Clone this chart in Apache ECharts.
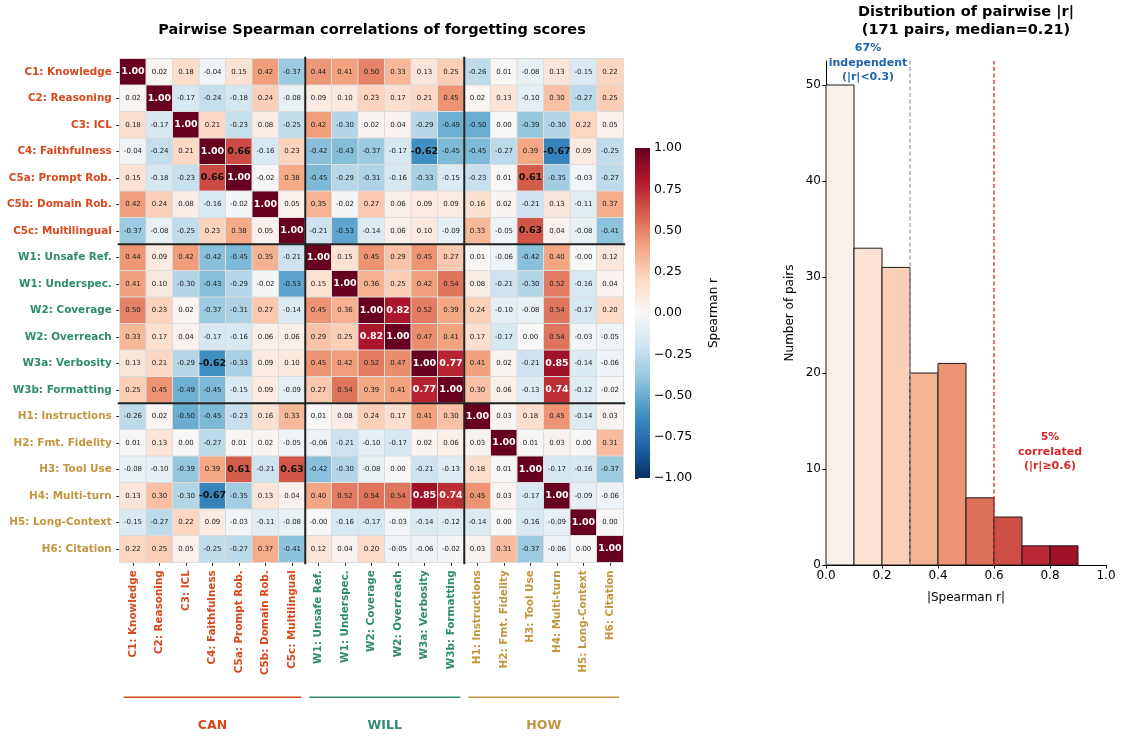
<!DOCTYPE html>
<html>
<head>
<meta charset="utf-8">
<script src="https://cdn.jsdelivr.net/npm/echarts@6/dist/echarts.min.js"></script>
<style>
html,body{margin:0;padding:0;background:#fff;}
#chart{width:1122px;height:737px;}
</style>
</head>
<body>
<div id="chart"></div>
<script>
// ---------- DATA ----------
const labels = ['C1: Knowledge','C2: Reasoning','C3: ICL','C4: Faithfulness','C5a: Prompt Rob.','C5b: Domain Rob.','C5c: Multilingual',
  'W1: Unsafe Ref.','W1: Underspec.','W2: Coverage','W2: Overreach','W3a: Verbosity','W3b: Formatting',
  'H1: Instructions','H2: Fmt. Fidelity','H3: Tool Use','H4: Multi-turn','H5: Long-Context','H6: Citation'];
const groupOf = [0,0,0,0,0,0,0,1,1,1,1,1,1,2,2,2,2,2,2];
const groupNames = ['CAN','WILL','HOW'];
const groupStart = [0,7,13];
const groupEnd = [6,12,18];
const groupColors = ['#D9481C','#2E8B6F','#C4953F'];

const corrRows = [
 [ 1.00, 0.02, 0.18,-0.04, 0.15, 0.42,-0.37, 0.44, 0.41, 0.50, 0.33, 0.13, 0.25,-0.26, 0.01,-0.08, 0.13,-0.15, 0.22],
 [ 0.02, 1.00,-0.17,-0.24,-0.18, 0.24,-0.08, 0.09, 0.10, 0.23, 0.17, 0.21, 0.45, 0.02, 0.13,-0.10, 0.30,-0.27, 0.25],
 [ 0.18,-0.17, 1.00, 0.21,-0.23, 0.08,-0.25, 0.42,-0.30, 0.02, 0.04,-0.29,-0.49,-0.50, 0.00,-0.39,-0.30, 0.22, 0.05],
 [-0.04,-0.24, 0.21, 1.00, 0.66,-0.16, 0.23,-0.42,-0.43,-0.37,-0.17,-0.62,-0.45,-0.45,-0.27, 0.39,-0.67, 0.09,-0.25],
 [ 0.15,-0.18,-0.23, 0.66, 1.00,-0.02, 0.38,-0.45,-0.29,-0.31,-0.16,-0.33,-0.15,-0.23, 0.01, 0.61,-0.35,-0.03,-0.27],
 [ 0.42, 0.24, 0.08,-0.16,-0.02, 1.00, 0.05, 0.35,-0.02, 0.27, 0.06, 0.09, 0.09, 0.16, 0.02,-0.21, 0.13,-0.11, 0.37],
 [-0.37,-0.08,-0.25, 0.23, 0.38, 0.05, 1.00,-0.21,-0.53,-0.14, 0.06, 0.10,-0.09, 0.33,-0.05, 0.63, 0.04,-0.08,-0.41],
 [ 0.44, 0.09, 0.42,-0.42,-0.45, 0.35,-0.21, 1.00, 0.15, 0.45, 0.29, 0.45, 0.27, 0.01,-0.06,-0.42, 0.40,-0.004, 0.12],
 [ 0.41, 0.10,-0.30,-0.43,-0.29,-0.02,-0.53, 0.15, 1.00, 0.36, 0.25, 0.42, 0.54, 0.08,-0.21,-0.30, 0.52,-0.16, 0.04],
 [ 0.50, 0.23, 0.02,-0.37,-0.31, 0.27,-0.14, 0.45, 0.36, 1.00, 0.82, 0.52, 0.39, 0.24,-0.10,-0.08, 0.54,-0.17, 0.20],
 [ 0.33, 0.17, 0.04,-0.17,-0.16, 0.06, 0.06, 0.29, 0.25, 0.82, 1.00, 0.47, 0.41, 0.17,-0.17, 0.00, 0.54,-0.03,-0.05],
 [ 0.13, 0.21,-0.29,-0.62,-0.33, 0.09, 0.10, 0.45, 0.42, 0.52, 0.47, 1.00, 0.77, 0.41, 0.02,-0.21, 0.85,-0.14,-0.06],
 [ 0.25, 0.45,-0.49,-0.45,-0.15, 0.09,-0.09, 0.27, 0.54, 0.39, 0.41, 0.77, 1.00, 0.30, 0.06,-0.13, 0.74,-0.12,-0.02],
 [-0.26, 0.02,-0.50,-0.45,-0.23, 0.16, 0.33, 0.01, 0.08, 0.24, 0.17, 0.41, 0.30, 1.00, 0.03, 0.18, 0.45,-0.14, 0.03],
 [ 0.01, 0.13, 0.00,-0.27, 0.01, 0.02,-0.05,-0.06,-0.21,-0.10,-0.17, 0.02, 0.06, 0.03, 1.00, 0.01, 0.03, 0.00, 0.31],
 [-0.08,-0.10,-0.39, 0.39, 0.61,-0.21, 0.63,-0.42,-0.30,-0.08, 0.00,-0.21,-0.13, 0.18, 0.01, 1.00,-0.17,-0.16,-0.37],
 [ 0.13, 0.30,-0.30,-0.67,-0.35, 0.13, 0.04, 0.40, 0.52, 0.54, 0.54, 0.85, 0.74, 0.45, 0.03,-0.17, 1.00,-0.09,-0.06],
 [-0.15,-0.27, 0.22, 0.09,-0.03,-0.11,-0.08,-0.004,-0.16,-0.17,-0.03,-0.14,-0.12,-0.14, 0.00,-0.16,-0.09, 1.00, 0.00],
 [ 0.22, 0.25, 0.05,-0.25,-0.27, 0.37,-0.41, 0.12, 0.04, 0.20,-0.05,-0.06,-0.02, 0.03, 0.31,-0.37,-0.06, 0.00, 1.00]
];

const binEdges = [0.0,0.1,0.2,0.3,0.4,0.5,0.6,0.7,0.8,0.9];
const binCounts = [50,33,31,20,21,7,5,2,2];
const thresholdLines = [0.3, 0.6];
const annoTexts = ['67%\nindependent\n(|r|<0.3)', '5%\ncorrelated\n(|r|≥0.6)'];
const annoPos = [[0.15, 52.3],[0.8, 11.8]];
const histYTicks = [0,10,20,30,40,50];

// ---------- COLORMAP (RdBu_r) ----------
const rdbu = ['#053061','#2166ac','#4393c3','#92c5de','#d1e5f0','#f7f7f7','#fddbc7','#f4a582','#d6604d','#b2182b','#67001f'];
function hex2rgb(h){return [parseInt(h.slice(1,3),16),parseInt(h.slice(3,5),16),parseInt(h.slice(5,7),16)];}
function cmap(t){
  t = Math.max(0, Math.min(1, t));
  const p = t*(rdbu.length-1); const i = Math.min(Math.floor(p), rdbu.length-2); const f = p-i;
  const a = hex2rgb(rdbu[i]), b = hex2rgb(rdbu[i+1]);
  return 'rgb('+a.map((v,k)=>Math.round(v+(b[k]-v)*f)).join(',')+')';
}

const FONT = 'DejaVu Sans';
const heatData = [];
corrRows.forEach((row, r) => row.forEach((v, c) => heatData.push([c, r, v])));

const richLabels = {};
groupColors.forEach((col, i) => { richLabels['g'+i] = {color: col, fontWeight:'bold', fontSize:10.4, fontFamily: FONT}; });

const chart = echarts.init(document.getElementById('chart'), null, {renderer:'canvas'});
const option = {
  animation: false,
  backgroundColor: '#fff',
  textStyle: {fontFamily: FONT},
  graphic: [
    {type:'text', x:372, y:30, style:{text:'Pairwise Spearman correlations of forgetting scores', textAlign:'center', textVerticalAlign:'middle', align:'center', verticalAlign:'middle', fill:'#000', font:'bold 14.5px "DejaVu Sans"'}},
    {type:'text', x:966, y:21, style:{text:'Distribution of pairwise |r|\n(171 pairs, median=0.21)', textAlign:'center', textVerticalAlign:'middle', align:'center', verticalAlign:'middle', lineHeight:17.5, fill:'#000', font:'bold 14.5px "DejaVu Sans"'}}
  ],
  visualMap: {type:'continuous', min:-1, max:1, show:false, dimension:2, seriesIndex:0, inRange:{color: rdbu}},
  grid: [
    {left:119.75, top:58.75, width:503.5, height:503.5},
    {left:635, top:148, width:15, height:330},
    {left:826, top:61, width:280, height:504}
  ],
  xAxis: [
    {gridIndex:0, type:'category', data:labels, position:'bottom',
     axisLine:{show:false}, splitLine:{show:false},
     axisTick:{show:true, alignWithLabel:true, length:3.5, lineStyle:{color:'#222'}},
     axisLabel:{rotate:90, margin:8, interval:0, formatter:(v,i)=>'{g'+groupOf[i]+'|'+v+'}', rich:richLabels}},
    {gridIndex:1, type:'value', min:0, max:1, show:false},
    {gridIndex:2, type:'value', min:0, max:1, interval:0.2,
     axisLine:{show:true, lineStyle:{color:'#000', width:1}},
     axisTick:{show:true, length:3.5, lineStyle:{color:'#000'}},
     splitLine:{show:false},
     axisLabel:{fontSize:12, color:'#000', margin:5, formatter:v=>v.toFixed(1)},
     name:'|Spearman r|', nameLocation:'middle', nameGap:27, nameTextStyle:{fontSize:12, color:'#000'}}
  ],
  yAxis: [
    {gridIndex:0, type:'category', data:labels, inverse:true,
     axisLine:{show:false}, splitLine:{show:false},
     axisTick:{show:true, alignWithLabel:true, length:3.5, lineStyle:{color:'#222'}},
     axisLabel:{margin:8, interval:0, formatter:(v,i)=>'{g'+groupOf[i]+'|'+v+'}', rich:richLabels}},
    {gridIndex:1, type:'value', min:-1, max:1, interval:0.25, position:'right',
     axisLine:{show:false}, splitLine:{show:false},
     axisTick:{show:true, length:3.5, lineStyle:{color:'#222'}},
     axisLabel:{fontSize:12.5, color:'#000', margin:4, formatter:v=>v.toFixed(2).replace('-','\u2212')},
     name:'Spearman r', nameLocation:'middle', nameRotate:90, nameGap:58, nameTextStyle:{fontSize:12, color:'#000'}},
    {gridIndex:2, type:'value', min:0, max:52.5,
     axisLine:{show:true, lineStyle:{color:'#000', width:1}},
     axisTick:{show:true, length:3.5, lineStyle:{color:'#000'}, customValues:histYTicks},
     splitLine:{show:false},
     axisLabel:{fontSize:12, color:'#000', margin:5, customValues:histYTicks},
     name:'Number of pairs', nameLocation:'middle', nameGap:30, nameTextStyle:{fontSize:12, color:'#000'}}
  ],
  series: [
    {type:'heatmap', xAxisIndex:0, yAxisIndex:0, data:heatData,
     itemStyle:{borderColor:'#dcdcdc', borderWidth:1},
     emphasis:{disabled:true},
     label:{show:true, formatter:p=>{
        const v = p.value[2]; const s = v.toFixed(2);
        if (p.value[0]===p.value[1]) return '{d|'+s+'}';
        if (Math.abs(v)>=0.7) return '{w|'+s+'}';
        if (Math.abs(v)>=0.6) return '{k|'+s+'}';
        return '{n|'+s+'}';
      },
      rich:{
        d:{color:'#fff', fontWeight:'bold', fontSize:9.5, fontFamily:FONT},
        w:{color:'#fff', fontWeight:'bold', fontSize:9.5, fontFamily:FONT},
        k:{color:'#111', fontWeight:'bold', fontSize:9.5, fontFamily:FONT},
        n:{color:'#222', fontSize:7, fontFamily:FONT}
      }}
    },
    {type:'custom', xAxisIndex:0, yAxisIndex:0, clip:false, silent:true, z:5,
     data:[[7,7],[13,13]],
     renderItem:(params, api)=>{
       const k = api.value(0);
       const s = api.size([1,1]);
       const a = api.coord([k, k]);
       const x = a[0]-s[0]/2, y = a[1]-s[1]/2;
       const tl = api.coord([0,0]), br = api.coord([labels.length-1, labels.length-1]);
       const left = tl[0]-s[0]/2 - 2, right = br[0]+s[0]/2 + 2;
       const top = tl[1]-s[1]/2 - 2, bottom = br[1]+s[1]/2 + 2;
       return {type:'group', children:[
         {type:'line', shape:{x1:x, y1:top, x2:x, y2:bottom}, style:{stroke:'#222', lineWidth:2}},
         {type:'line', shape:{x1:left, y1:y, x2:right, y2:y}, style:{stroke:'#222', lineWidth:2}}
       ]};
     }},
    {type:'custom', xAxisIndex:0, yAxisIndex:0, clip:false, silent:true, z:5,
     data: groupStart.map((s,i)=>[s, groupEnd[i]]),
     renderItem:(params, api)=>{
       const i = params.dataIndex;
       const s = api.size([1,1]);
       const last = labels.length-1;
       const a = api.coord([api.value(0), last]), b = api.coord([api.value(1), last]);
       const x1 = a[0]-s[0]/2+4, x2 = b[0]+s[0]/2-4;
       const base = a[1]+s[1]/2;
       return {type:'group', children:[
         {type:'line', shape:{x1:x1, y1:base+135, x2:x2, y2:base+135}, style:{stroke:groupColors[i], lineWidth:1.5}},
         {type:'text', x:(x1+x2)/2, y:base+163, style:{text:groupNames[i], align:'center', verticalAlign:'middle', textAlign:'center', textVerticalAlign:'middle', fill:groupColors[i], font:'bold 12.5px "DejaVu Sans"'}}
       ]};
     }},
    {type:'custom', xAxisIndex:1, yAxisIndex:1, silent:true, data:[[0,-1,1]],
     renderItem:(params, api)=>{
       const p0 = api.coord([0, api.value(2)]), p1 = api.coord([1, api.value(1)]);
       const stops = rdbu.map((c,i)=>({offset:1-i/(rdbu.length-1), color:c})).reverse();
       return {type:'rect', shape:{x:p0[0], y:p0[1], width:p1[0]-p0[0], height:p1[1]-p0[1]},
         style:{fill:{type:'linear', x:0, y:0, x2:0, y2:1, colorStops:stops}}};
     }},
    {type:'custom', xAxisIndex:2, yAxisIndex:2, silent:true,
     data: binCounts.map((c,i)=>[binEdges[i], binEdges[i+1], c]),
     encode:{x:[0,1], y:2},
     renderItem:(params, api)=>{
       const x0 = api.value(0), x1 = api.value(1), c = api.value(2);
       const p0 = api.coord([x0, c]), p1 = api.coord([x1, 0]);
       const col = cmap(((x0+x1)/2 + 1)/2);
       return {type:'rect', shape:{x:p0[0], y:p0[1], width:p1[0]-p0[0], height:p1[1]-p0[1]},
         style:{fill:col, stroke:'#1a1a1a', lineWidth:1}};
     }},
    {type:'custom', xAxisIndex:2, yAxisIndex:2, silent:true, z:6,
     data: thresholdLines.map(v=>[v]),
     renderItem:(params, api)=>{
       const v = api.value(0);
       const a = api.coord([v, 0]), b = api.coord([v, 52.5]);
       const col = params.dataIndex===0 ? '#a0a0a0' : '#d62728';
       return {type:'line', shape:{x1:a[0], y1:a[1], x2:b[0], y2:b[1]}, style:{stroke:col, lineWidth:1.3, lineDash:[4,2.5]}};
     }},
    {type:'custom', xAxisIndex:2, yAxisIndex:2, silent:true, clip:false, z:7,
     data: annoPos,
     renderItem:(params, api)=>{
       const p = api.coord([api.value(0), api.value(1)]);
       const col = params.dataIndex===0 ? '#2166ac' : '#d62728';
       return {type:'text', x:p[0], y:p[1], style:{text:annoTexts[params.dataIndex], align:'center', verticalAlign:'middle', textAlign:'center', textVerticalAlign:'middle', lineHeight:14.5, fill:col, font:'bold 11px "DejaVu Sans"'}};
     }}
  ]
};
chart.setOption(option);
</script>
</body>
</html>
